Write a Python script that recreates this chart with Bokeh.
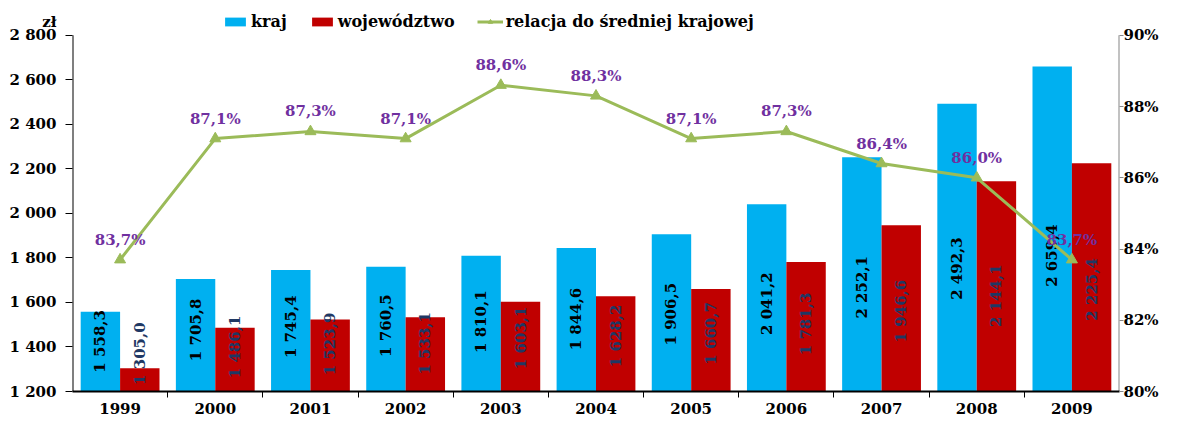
import math
from bokeh.plotting import figure
from bokeh.models import (Range1d, LinearAxis, FixedTicker, ColumnDataSource, Legend,
                          LegendItem)
from bokeh.core.properties import value
from bokeh.embed import file_html
from bokeh.resources import INLINE

years = ["1999", "2000", "2001", "2002", "2003", "2004", "2005", "2006", "2007", "2008", "2009"]
kraj = [1558.3, 1705.8, 1745.4, 1760.5, 1810.1, 1844.6, 1906.5, 2041.2, 2252.1, 2492.3, 2659.4]
woj = [1305.0, 1486.1, 1523.9, 1533.1, 1603.1, 1628.2, 1660.7, 1781.3, 1946.6, 2144.1, 2225.4]
relacja = [83.7, 87.1, 87.3, 87.1, 88.6, 88.3, 87.1, 87.3, 86.4, 86.0, 83.7]
left_ticks = [1200, 1400, 1600, 1800, 2000, 2200, 2400, 2600, 2800]
right_ticks = [80, 82, 84, 86, 88, 90]
unit_label = "zł"

FONT = "DejaVu Serif"
CYAN = "#00B0F0"
RED = "#C00000"
GREEN = "#9BBB59"
PURPLE = "#7030A0"
NAVY = "#1F3864"

W, H = 1161, 416
LEFT, RIGHT_X, TOP_Y, BOTTOM_Y = 72, 1122, 35, 393   # axis box in page pixels
frame_h = BOTTOM_Y          # frame starts at the very top of the canvas
axis_h = BOTTOM_Y - TOP_Y

y0, y1 = left_ticks[0], left_ticks[-1]
r0, r1 = right_ticks[0], right_ticks[-1]
px_val = (y1 - y0) / axis_h
y_top = y1 + TOP_Y * px_val
r_top = r1 + TOP_Y * (r1 - r0) / axis_h
unit_pos = int(round(y1 + 13 * px_val))   # about 13 px above the top tick

def fmt_num(v):
    return f"{v:,.1f}".replace(",", " ").replace(".", ",")

n = len(years)
centers = [i + 0.5 for i in range(n)]
bw = 0.414

p = figure(width=W, height=H, output_backend="svg", toolbar_location=None,
           x_range=Range1d(0, n), y_range=Range1d(y0, y_top),
           min_border_left=LEFT, min_border_right=W - RIGHT_X, min_border_top=0,
           min_border_bottom=H - BOTTOM_Y)
p.outline_line_color = None
p.xgrid.visible = False
p.ygrid.visible = False

src = ColumnDataSource(dict(
    xk=[c - bw / 2 for c in centers], xw=[c + bw / 2 for c in centers],
    kraj=kraj, woj=woj,
    kl=[fmt_num(v) for v in kraj], wl=[fmt_num(v) for v in woj],
    ky=[max(880 + 0.35 * v, 1370) for v in kraj],
    wy=[max(880 + 0.35 * v, 1370) for v in woj],
    xc=centers, rel=relacja,
    rl=[f"{v:.1f}%".replace(".", ",") for v in relacja],
))

rk = p.vbar(x="xk", top="kraj", bottom=y0, width=bw, source=src, fill_color=CYAN, line_color=None)
rw = p.vbar(x="xw", top="woj", bottom=y0, width=bw, source=src, fill_color=RED, line_color=None)

p.text(x="xk", y="ky", text="kl", source=src, angle=math.pi / 2, text_align="center",
       text_baseline="middle", text_font=value(FONT), text_font_style="bold",
       text_font_size="15px", text_color="black")
p.text(x="xw", y="wy", text="wl", source=src, angle=math.pi / 2, text_align="center",
       text_baseline="middle", text_font=value(FONT), text_font_style="bold",
       text_font_size="15px", text_color=NAVY)

p.extra_y_ranges = {"pct": Range1d(r0, r_top)}
rl = p.line(x="xc", y="rel", source=src, y_range_name="pct", line_color=GREEN, line_width=3)
rm = p.scatter(x="xc", y="rel", source=src, y_range_name="pct", marker="triangle", size=11,
               fill_color=GREEN, line_color=GREEN)
p.text(x="xc", y="rel", text="rl", source=src, y_range_name="pct", y_offset=-11,
       text_align="center", text_baseline="bottom", text_font=value(FONT),
       text_font_style="bold", text_font_size="15px", text_color=PURPLE)

# visible axis lines only over the value span
p.segment(x0=[0], y0=[y0], x1=[0], y1=[y1], line_color="black", line_width=2)
p.segment(x0=[n], y0=[r0], x1=[n], y1=[r1], y_range_name="pct", line_color="#868686", line_width=2)

# x axis
xa = p.xaxis[0]
xa.ticker = FixedTicker(ticks=centers, minor_ticks=list(range(1, n)))
xa.major_label_overrides = {c: y for c, y in zip(centers, years)}
xa.major_tick_line_color = None
xa.major_tick_out = 0
xa.major_tick_in = 0
xa.minor_tick_line_color = "black"
xa.minor_tick_out = 6
xa.minor_tick_in = 0
xa.axis_line_color = "black"
xa.axis_line_width = 2
xa.major_label_standoff = 5
xa.major_label_text_font = FONT
xa.major_label_text_font_style = "bold"
xa.major_label_text_font_size = "15px"
xa.major_label_text_color = "black"

# left axis (the unit "zł" sits as an extra label above the top tick)
ya = p.yaxis[0]
ya.ticker = FixedTicker(ticks=left_ticks + [unit_pos], minor_ticks=left_ticks)
overrides = {t: f"{t:,}".replace(",", " ") for t in left_ticks}
overrides[unit_pos] = unit_label
ya.major_label_overrides = overrides
ya.major_tick_line_color = None
ya.major_tick_out = 7
ya.major_tick_in = 0
ya.minor_tick_line_color = "black"
ya.minor_tick_out = 7
ya.minor_tick_in = 0
ya.axis_line_color = None
ya.major_label_standoff = 9
ya.major_label_text_font = FONT
ya.major_label_text_font_style = "bold"
ya.major_label_text_font_size = "15px"
ya.major_label_text_color = "black"

# right axis
ra = LinearAxis(y_range_name="pct", ticker=FixedTicker(ticks=right_ticks))
ra.major_label_overrides = {t: f"{t}%" for t in right_ticks}
ra.minor_tick_line_color = None
ra.major_tick_out = 4
ra.major_tick_in = 0
ra.axis_line_color = None
ra.major_tick_line_color = "#868686"
ra.major_label_standoff = 0
ra.major_label_text_font = FONT
ra.major_label_text_font_style = "bold"
ra.major_label_text_font_size = "15px"
ra.major_label_text_color = "black"
p.add_layout(ra, "right")

legend = Legend(items=[
    LegendItem(label="kraj", renderers=[rk]),
    LegendItem(label="województwo", renderers=[rw]),
    LegendItem(label="relacja do średniej krajowej", renderers=[rl, rm]),
], orientation="horizontal", location=(150, frame_h - 33))
legend.background_fill_alpha = 0
legend.border_line_color = None
legend.padding = 0
legend.margin = 0
legend.spacing = 22
legend.label_standoff = 3
legend.glyph_width = 26
legend.glyph_height = 11
legend.label_text_font = FONT
legend.label_text_font_style = "bold"
legend.label_text_font_size = "16px"
legend.label_text_color = "black"
p.add_layout(legend, "center")

open("out.html", "w").write(file_html(p, INLINE))
